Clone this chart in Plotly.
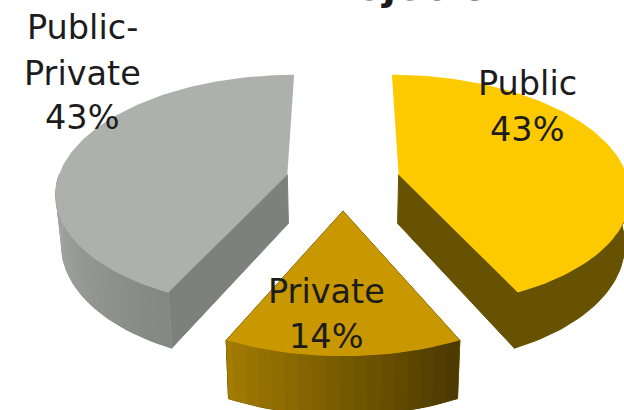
import math
import plotly.graph_objects as go

# Project counts by financing type, clockwise from 12 o'clock
categories = ["Public", "Private", "Public-Private"]
shares = [43, 14, 43]
chart_title = "Projects"

top_colors = ["#FDCA00", "#C99800", "#ADB0AB"]
radial_colors = ["#665200", "#665200", "#7E807C"]
arc_wall_start = ["#665200", "#4C3A00", "#858783"]
arc_wall_end = ["#665200", "#A67E02", "#A2A4A0"]

# One list of text lines per slice, with the baseline of each line in page pixels
label_lines = [["Public", "43%"], ["Private", "14%"], ["Public-", "Private", "43%"]]
label_x = [527, 326, 82]
label_baselines = [[95, 141], [303, 348], [39, 85, 129]]

# Perspective projection of the pie's ground plane
CX, CY = 343, 181
RX, RY = 230, 115.6
DEPTH = 0.14
EXPLODE = 0.25
WALL = 49
FRONT_LIMIT = 0.0  # rim points further back than this have no visible wall


def project(x, y, drop=0.0):
    s = 1 / (1 + DEPTH * y)
    taper = 0.98 if drop else 1.0
    return CX + RX * x * s * taper, CY - RY * y * s + drop * WALL * s


def mix(c0, c1, t):
    a = [int(c0[i:i + 2], 16) for i in (1, 3, 5)]
    b = [int(c1[i:i + 2], 16) for i in (1, 3, 5)]
    return "#%02x%02x%02x" % tuple(round(p + (q - p) * t) for p, q in zip(a, b))


def polygon(points, color, edge=0.0):
    return go.Scatter(
        x=[p[0] for p in points] + [points[0][0]],
        y=[p[1] for p in points] + [points[0][1]],
        mode="lines",
        fill="toself",
        fillcolor=color,
        line=dict(color=color, width=edge),
        hoverinfo="skip",
        showlegend=False,
    )


total = sum(shares)
slices = []
start = 0.0
for i, value in enumerate(shares):
    sweep = value / total * 2 * math.pi
    end = start + sweep
    mid = (start + end) / 2
    ox, oy = EXPLODE * math.sin(mid), EXPLODE * math.cos(mid)
    slices.append((i, start, end, ox, oy))
    start = end

fig = go.Figure()

# Back slices first so that nearer walls overlap them
for i, a0, a1, ox, oy in sorted(slices, key=lambda t: -t[4]):
    n = max(8, int((a1 - a0) * 40))
    rim = [(ox + math.sin(a0 + (a1 - a0) * k / n), oy + math.cos(a0 + (a1 - a0) * k / n)) for k in range(n + 1)]

    # Only radial faces turned towards the viewer are drawn
    for edge in (rim[0], rim[-1]):
        if edge[1] < oy:
            fig.add_trace(polygon(
                [project(ox, oy), project(*edge), project(*edge, drop=1), project(ox, oy, drop=1)],
                radial_colors[i], edge=1,
            ))

    # Outer wall on the front part of the rim: a solid base, then overlapping shade bands
    front = [p for p in rim if p[1] - oy <= FRONT_LIMIT]
    m = len(front) - 1
    base = [project(*p) for p in front] + [project(*p, drop=1) for p in reversed(front)]
    fig.add_trace(polygon(base, mix(arc_wall_start[i], arc_wall_end[i], 0.5), edge=1))
    if arc_wall_start[i] != arc_wall_end[i]:
        for k in range(0, m, 2):
            stop = min(m, k + 4)
            shade = mix(arc_wall_start[i], arc_wall_end[i], min(1.0, k / (m * (0.75 if i == 2 else 1.0))))
            fig.add_trace(polygon(
                [project(*front[k]), project(*front[stop]), project(*front[stop], drop=1), project(*front[k], drop=1)],
                shade,
            ))
    fig.add_trace(polygon([project(ox, oy)] + [project(*p) for p in rim], top_colors[i]))

# Slice labels, one annotation per line, with the share taken from the data
for i, lines in enumerate(label_lines):
    for text, base in zip(lines, label_baselines[i]):
        if text.endswith("%"):
            text = f"{shares[i]}%"
        fig.add_annotation(x=label_x[i], y=base - 12, text=text, showarrow=False,
                           xanchor="center", yanchor="middle",
                           font=dict(family="DejaVu Sans", size=33.5, color="#1c1c1c"))

# The heading runs off the top edge of the page
fig.add_annotation(xref="paper", yref="paper", x=397 / 624, y=1 + 13 / 410,
                   text=f"<b>{chart_title}</b>", showarrow=False,
                   xanchor="center", yanchor="middle",
                   font=dict(family="DejaVu Sans", size=39, color="#1c1c1c"))

fig.update_xaxes(range=[0, 624], visible=False, fixedrange=True)
fig.update_yaxes(range=[410, 0], visible=False, fixedrange=True)
fig.update_layout(width=624, height=410, margin=dict(l=0, r=0, t=0, b=0),
                  paper_bgcolor="white", plot_bgcolor="white", showlegend=False)

fig.write_html("out.html", config={"displayModeBar": False})
